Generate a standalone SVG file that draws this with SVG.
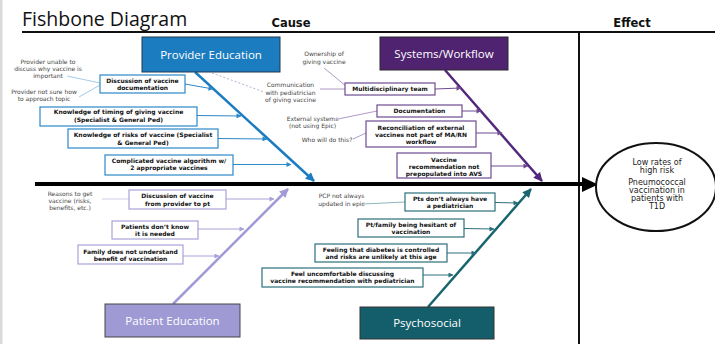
<svg xmlns="http://www.w3.org/2000/svg" width="715" height="344" viewBox="0 0 715 344">
<style>
.bx{font-family:"DejaVu Sans",Verdana,sans-serif;font-size:6px;font-weight:bold;fill:#111;text-anchor:middle}
.an{font-family:"DejaVu Sans",Verdana,sans-serif;font-size:6px;fill:#444;text-anchor:middle}
.cat{font-family:"Open Sans","DejaVu Sans",sans-serif;font-size:11.5px;fill:#fff;text-anchor:middle}
.hd{font-family:"DejaVu Sans",Verdana,sans-serif;font-size:11.5px;font-weight:bold;fill:#111;text-anchor:middle}
.ef{font-family:"DejaVu Sans",Verdana,sans-serif;font-size:8px;fill:#222;text-anchor:middle}
.sb{fill:#fff;stroke-width:1.2}
.pb{stroke:#2c88c9}.sy{stroke:#6e4b92}.pe{stroke:#a7a2d8}.ps{stroke:#2a6f7b}
</style>
<defs>
<marker id="ab" viewBox="0 0 10 10" refX="9" refY="5" markerWidth="6" markerHeight="5" markerUnits="userSpaceOnUse" orient="auto"><path d="M0,0L10,5L0,10z" fill="#2c88c9"/></marker>
<marker id="ap" viewBox="0 0 10 10" refX="9" refY="5" markerWidth="6" markerHeight="5" markerUnits="userSpaceOnUse" orient="auto"><path d="M0,0L10,5L0,10z" fill="#6e4b92"/></marker>
<marker id="al" viewBox="0 0 10 10" refX="9" refY="5" markerWidth="6" markerHeight="5" markerUnits="userSpaceOnUse" orient="auto"><path d="M0,0L10,5L0,10z" fill="#a7a2d8"/></marker>
<marker id="at" viewBox="0 0 10 10" refX="9" refY="5" markerWidth="6" markerHeight="5" markerUnits="userSpaceOnUse" orient="auto"><path d="M0,0L10,5L0,10z" fill="#2a6f7b"/></marker>
<marker id="bb" viewBox="0 0 10 10" refX="9" refY="5" markerWidth="10" markerHeight="9" markerUnits="userSpaceOnUse" orient="auto"><path d="M0,0L10,5L0,10z" fill="#1b7cc0"/></marker>
<marker id="bp" viewBox="0 0 10 10" refX="9" refY="5" markerWidth="10" markerHeight="9" markerUnits="userSpaceOnUse" orient="auto"><path d="M0,0L10,5L0,10z" fill="#52287c"/></marker>
<marker id="bl" viewBox="0 0 10 10" refX="9" refY="5" markerWidth="10" markerHeight="9" markerUnits="userSpaceOnUse" orient="auto"><path d="M0,0L10,5L0,10z" fill="#a09bd6"/></marker>
<marker id="bt" viewBox="0 0 10 10" refX="9" refY="5" markerWidth="10" markerHeight="9" markerUnits="userSpaceOnUse" orient="auto"><path d="M0,0L10,5L0,10z" fill="#19656f"/></marker>
</defs>
<rect x="0" y="0" width="715" height="344" fill="#fff"/>
<rect x="0" y="0" width="2.5" height="344" fill="#d9d9d9"/>
<g id="header">
<text x="22" y="26" font-family="Open Sans, DejaVu Sans, sans-serif" font-size="19.5" fill="#111">Fishbone Diagram</text>
<text class="hd" x="291" y="27">Cause</text>
<text class="hd" x="632" y="27">Effect</text>
<line x1="22" y1="32" x2="715" y2="32" stroke="#111" stroke-width="2"/>
<line x1="579" y1="32" x2="579" y2="344" stroke="#111" stroke-width="2"/>
</g>
<g id="connectors" fill="none">
<line x1="35" y1="184" x2="583" y2="184" stroke="#000" stroke-width="4"/>
<polygon points="582,177 598,184.5 582,192" fill="#000"/>
<line x1="195" y1="72" x2="314" y2="181" stroke="#1b7cc0" stroke-width="2.5" marker-end="url(#bb)"/>
<line x1="445" y1="70" x2="542" y2="181" stroke="#52287c" stroke-width="2.5" marker-end="url(#bp)"/>
<line x1="173" y1="304" x2="288" y2="189" stroke="#a09bd6" stroke-width="2.5" marker-end="url(#bl)"/>
<line x1="428" y1="307" x2="531" y2="189" stroke="#19656f" stroke-width="2.5" marker-end="url(#bt)"/>
<g stroke="#2c88c9" stroke-width="1">
<line x1="185" y1="84" x2="213" y2="89" marker-end="url(#ab)"/>
<line x1="197" y1="115.5" x2="241" y2="116" marker-end="url(#ab)"/>
<line x1="218" y1="138.5" x2="267" y2="139" marker-end="url(#ab)"/>
<line x1="233" y1="164.5" x2="291" y2="164.5" marker-end="url(#ab)"/>
</g>
<g stroke="#8bbfe4" stroke-width="0.8">
<line x1="67" y1="76" x2="100" y2="83"/>
<line x1="79" y1="97" x2="100" y2="85"/>
</g>
<line x1="212" y1="73" x2="264" y2="92" stroke="#a59cc6" stroke-width="0.8" stroke-dasharray="2,2"/>
<g stroke="#6e4b92" stroke-width="1">
<line x1="435" y1="89" x2="461" y2="88" marker-end="url(#ap)"/>
<line x1="462" y1="111" x2="481" y2="111" marker-end="url(#ap)"/>
<line x1="476" y1="133" x2="502" y2="133" marker-end="url(#ap)"/>
<line x1="491" y1="166" x2="528" y2="166" marker-end="url(#ap)"/>
</g>
<g stroke="#9a80b8" stroke-width="0.8">
<line x1="320" y1="89" x2="345" y2="89"/>
<line x1="324" y1="68" x2="346" y2="86"/>
<line x1="338" y1="119" x2="377" y2="111"/>
<line x1="353" y1="139" x2="366" y2="133"/>
</g>
<g stroke="#a7a2d8" stroke-width="1">
<line x1="226" y1="199" x2="274" y2="199" marker-end="url(#al)"/>
<line x1="198" y1="229" x2="244" y2="229" marker-end="url(#al)"/>
<line x1="183" y1="256" x2="219" y2="256" marker-end="url(#al)"/>
</g>
<line x1="102" y1="199" x2="129" y2="199" stroke="#c4c0e6" stroke-width="0.8"/>
<g stroke="#2a6f7b" stroke-width="1">
<line x1="495" y1="202.5" x2="518" y2="203" marker-end="url(#at)"/>
<line x1="464" y1="228.5" x2="494" y2="229" marker-end="url(#at)"/>
<line x1="447" y1="253" x2="476" y2="253" marker-end="url(#at)"/>
<line x1="423" y1="275" x2="453" y2="275" marker-end="url(#at)"/>
</g>
<line x1="363" y1="204" x2="405" y2="202" stroke="#6fa3ab" stroke-width="0.8"/>
</g>
<g id="provider-education">
<rect x="142" y="37" width="138" height="35" fill="#1b7cc0" stroke="#24384c" stroke-width="1"/>
<text class="cat" x="211" y="58.5">Provider Education</text>
</g>
<g id="systems-workflow">
<rect x="380" y="37" width="128" height="33" fill="#4f2370" stroke="#2a2a2a" stroke-width="1"/>
<text class="cat" x="444" y="57.5">Systems/Workflow</text>
</g>
<g id="patient-education">
<rect x="105" y="304" width="135" height="33" fill="#9f9ad4" stroke="#444" stroke-width="1"/>
<text class="cat" x="172.5" y="324.5">Patient Education</text>
</g>
<g id="psychosocial">
<rect x="360" y="307" width="134" height="32" fill="#145e6b" stroke="#333" stroke-width="1"/>
<text class="cat" x="427" y="327">Psychosocial</text>
</g>
<g id="effect">
<ellipse cx="656" cy="187" rx="60" ry="44" fill="#fff" stroke="#111" stroke-width="2"/>
<text class="ef" x="657" y="165">Low rates of</text>
<text class="ef" x="657" y="173">high risk</text>
<text class="ef" x="657" y="185">Pneumococcal</text>
<text class="ef" x="657" y="193">vaccination in</text>
<text class="ef" x="657" y="201">patients with</text>
<text class="ef" x="657" y="209">T1D</text>
</g>
<g id="pe-discussion-doc">
<rect class="sb pb" x="100" y="75" width="85" height="18"/>
<text class="bx" x="142.5" y="82.5">Discussion of vaccine</text>
<text class="bx" x="142.5" y="89.5">documentation</text>
</g>
<g id="pe-timing">
<rect class="sb pb" x="40" y="107" width="157" height="19"/>
<text class="bx" x="118.5" y="114">Knowledge of timing of giving vaccine</text>
<text class="bx" x="118.5" y="121.5">(Specialist &amp; General Ped)</text>
</g>
<g id="pe-risks">
<rect class="sb pb" x="68" y="129" width="150" height="19"/>
<text class="bx" x="143" y="137">Knowledge of risks of vaccine (Specialist</text>
<text class="bx" x="143" y="144.5">&amp; General Ped)</text>
</g>
<g id="pe-algorithm">
<rect class="sb pb" x="105" y="155" width="128" height="20"/>
<text class="bx" x="169" y="162.5">Complicated vaccine algorithm w/</text>
<text class="bx" x="169" y="170">2 appropriate vaccines</text>
</g>
<g id="pe-notes">
<text class="an" x="48" y="64">Provider unable to</text>
<text class="an" x="48" y="71">discuss why vaccine is</text>
<text class="an" x="48" y="78">important</text>
<text class="an" x="44" y="93.5">Provider not sure how</text>
<text class="an" x="44" y="100.5">to approach topic</text>
</g>
<g id="sw-multidisciplinary">
<rect class="sb sy" x="345" y="83" width="90" height="12"/>
<text class="bx" x="390" y="91.3">Multidisciplinary team</text>
</g>
<g id="sw-documentation">
<rect class="sb sy" x="377" y="105" width="85" height="12"/>
<text class="bx" x="419.5" y="113.3">Documentation</text>
</g>
<g id="sw-reconciliation">
<rect class="sb sy" x="366" y="121" width="110" height="26"/>
<text class="bx" x="421" y="129.5">Reconciliation of external</text>
<text class="bx" x="421" y="136.5">vaccines not part of MA/RN</text>
<text class="bx" x="421" y="143.5">workflow</text>
</g>
<g id="sw-avs">
<rect class="sb sy" x="397" y="153" width="94" height="25"/>
<text class="bx" x="444" y="161.5">Vaccine</text>
<text class="bx" x="444" y="168.5">recommendation not</text>
<text class="bx" x="444" y="175.5">prepopulated into AVS</text>
</g>
<g id="sw-notes">
<text class="an" x="290.5" y="87">Communication</text>
<text class="an" x="290.5" y="94.5">with pediatrician</text>
<text class="an" x="290.5" y="101.5">of giving vaccine</text>
<text class="an" x="324" y="56">Ownership of</text>
<text class="an" x="324" y="63.5">giving vaccine</text>
<text class="an" x="312.5" y="121">External systems</text>
<text class="an" x="312.5" y="128">(not using Epic)</text>
<text class="an" x="327" y="142">Who will do this?</text>
</g>
<g id="pt-discussion">
<rect class="sb pe" x="129" y="190" width="97" height="19"/>
<text class="bx" x="177.5" y="198">Discussion of vaccine</text>
<text class="bx" x="177.5" y="205.5">from provider to pt</text>
</g>
<g id="pt-dont-know">
<rect class="sb pe" x="112" y="221" width="86" height="18"/>
<text class="bx" x="155" y="229">Patients don’t know</text>
<text class="bx" x="155" y="236">it is needed</text>
</g>
<g id="pt-family">
<rect class="sb pe" x="78" y="245" width="105" height="19"/>
<text class="bx" x="130.5" y="253.5">Family does not understand</text>
<text class="bx" x="130.5" y="260.5">benefit of vaccination</text>
</g>
<g id="pt-notes">
<text class="an" x="70" y="196">Reasons to get</text>
<text class="an" x="70" y="203">vaccine (risks,</text>
<text class="an" x="70" y="210">benefits, etc.)</text>
</g>
<g id="ps-pediatrician">
<rect class="sb ps" x="405" y="193" width="90" height="18"/>
<text class="bx" x="450" y="200.5">Pts don’t always have</text>
<text class="bx" x="450" y="207.5">a pediatrician</text>
</g>
<g id="ps-hesitant">
<rect class="sb ps" x="358" y="219" width="106" height="18"/>
<text class="bx" x="411" y="226.5">Pt/family being hesitant of</text>
<text class="bx" x="411" y="234">vaccination</text>
</g>
<g id="ps-controlled">
<rect class="sb ps" x="315" y="244" width="132" height="18"/>
<text class="bx" x="381" y="252">Feeling that diabetes is controlled</text>
<text class="bx" x="381" y="259">and risks are unlikely at this age</text>
</g>
<g id="ps-uncomfortable">
<rect class="sb ps" x="262" y="268" width="161" height="19"/>
<text class="bx" x="342.5" y="276">Feel uncomfortable discussing</text>
<text class="bx" x="342.5" y="283">vaccine recommendation with pediatrician</text>
</g>
<g id="ps-notes">
<text class="an" x="341.5" y="198">PCP not always</text>
<text class="an" x="341.5" y="205.5">updated in epic</text>
</g>
</svg>
